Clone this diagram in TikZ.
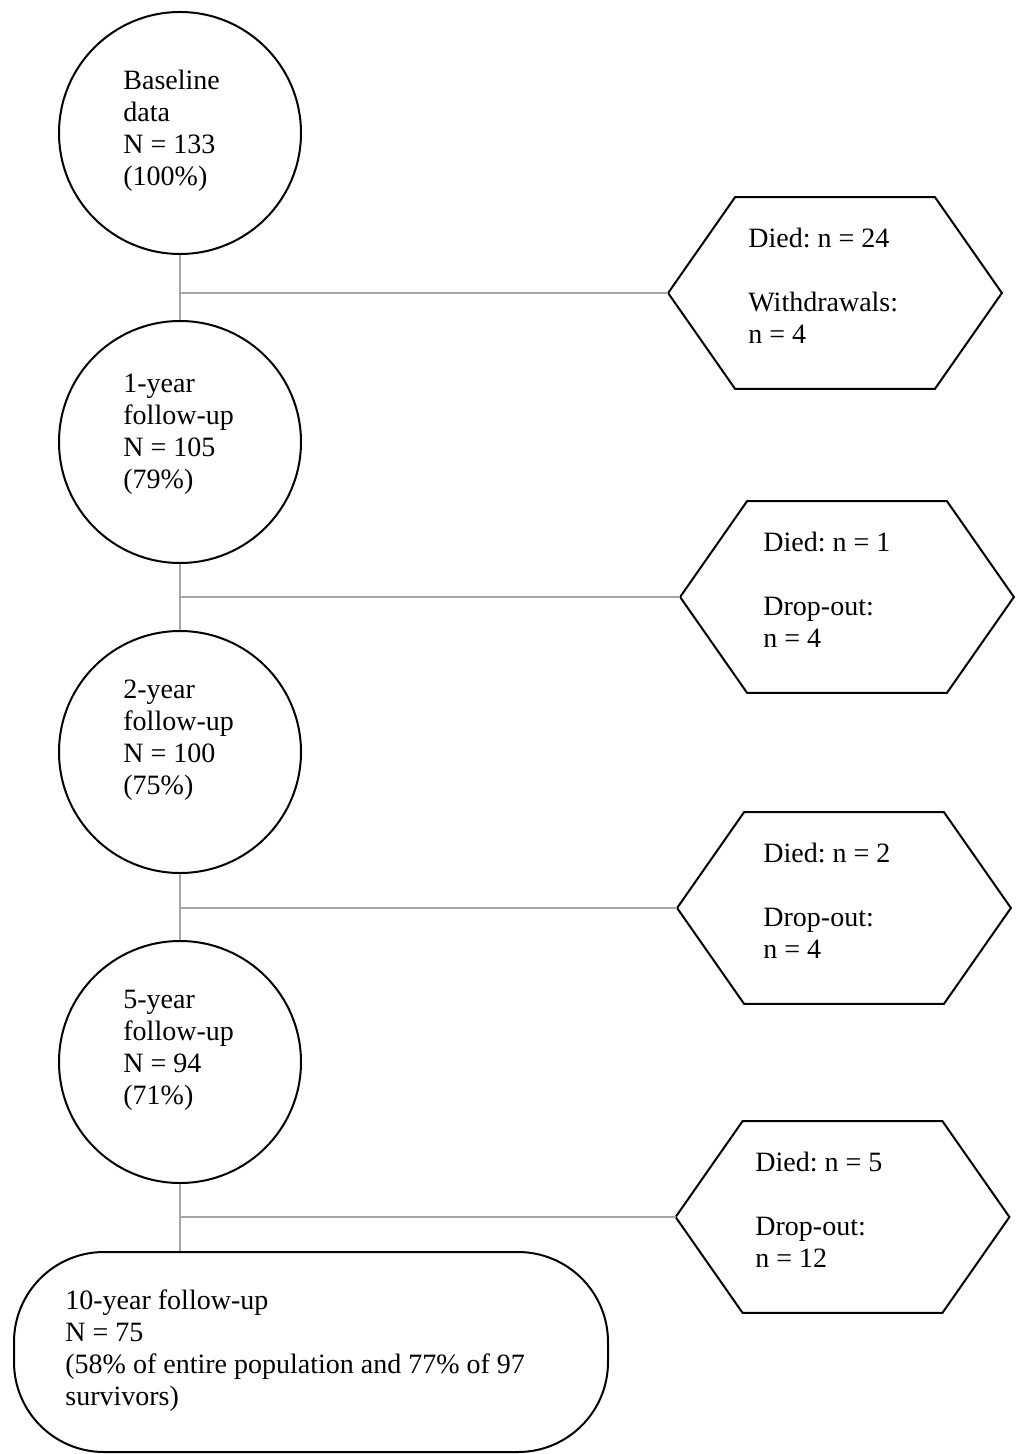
\documentclass[tikz,border=0pt]{standalone}
\usepackage{fontspec}
\setmainfont{Liberation Serif}
\begin{document}
\frenchspacing
\begin{tikzpicture}[x=0.5pt,y=-0.5pt,
  every node/.style={font=\fontsize{14}{16}\selectfont},
  stage/.style={circle,draw,line width=1pt,minimum size=121pt,inner sep=0pt},
  txt/.style={anchor=west,inner sep=0pt,align=left},
  hexbox/.style={rectangle,inner sep=0pt,minimum width=166.5pt,minimum height=95.5pt},
  hexline/.style={draw,line width=1pt,line join=miter},
  link/.style={draw=black!35,line width=0.6pt}]
\useasboundingbox (0,0) rectangle (1016,1454);

\node[stage] (s0) at (180,133) {};
\node[stage] (s1) at (180,442) {};
\node[stage] (s2) at (180,752) {};
\node[stage] (s3) at (180,1062) {};
\node[txt] (t0) at (123,131) {Baseline\\data\\N = 133\\(100\%)};
\node[txt] (t1) at (123,434) {1-year\\follow-up\\N = 105\\(79\%)};
\node[txt] (t2) at (123,740) {2-year\\follow-up\\N = 100\\(75\%)};
\node[txt] (t3) at (123,1050) {5-year\\follow-up\\N = 94\\(71\%)};
\node[draw,line width=1pt,rectangle,rounded corners=45pt,minimum width=297pt,minimum height=100pt,
      inner sep=0pt] (s4) at (311,1352) {};
\node[txt] (t4) at (65,1351)
  {10-year follow-up\\N = 75\\(58\% of entire population and 77\% of 97\\survivors)};

\node[hexbox] (h1) at (835,293) {};
\node[hexbox] (h2) at (847,597) {};
\node[hexbox] (h3) at (844,908) {};
\node[hexbox] (h4) at (842.5,1217) {};
\node[txt] (d1) at (748,286) {Died: n = 24\\[16pt]Withdrawals:\\n = 4};
\node[txt] (d2) at (763,590) {Died: n = 1\\[16pt]Drop-out:\\n = 4};
\node[txt] (d3) at (763,901) {Died: n = 2\\[16pt]Drop-out:\\n = 4};
\node[txt] (d4) at (755,1210) {Died: n = 5\\[16pt]Drop-out:\\n = 12};

\foreach \h in {h1,h2,h3,h4}{
  \draw[hexline] (\h.west) -- ([xshift=33.5pt]\h.north west) -- ([xshift=-33.5pt]\h.north east)
    -- (\h.east) -- ([xshift=-33.5pt]\h.south east) -- ([xshift=33.5pt]\h.south west) -- cycle;
}

\draw[link] (s0) -- (s1);
\draw[link] (s1) -- (s2);
\draw[link] (s2) -- (s3);
\draw[link] (s3.south) -- (s3.south |- s4.north);
\coordinate (j1) at (s0.south |- h1.west);
\coordinate (j2) at (s1.south |- h2.west);
\coordinate (j3) at (s2.south |- h3.west);
\coordinate (j4) at (s3.south |- h4.west);
\draw[link] (j1) -- (h1.west);
\draw[link] (j2) -- (h2.west);
\draw[link] (j3) -- (h3.west);
\draw[link] (j4) -- (h4.west);
\end{tikzpicture}
\end{document}
